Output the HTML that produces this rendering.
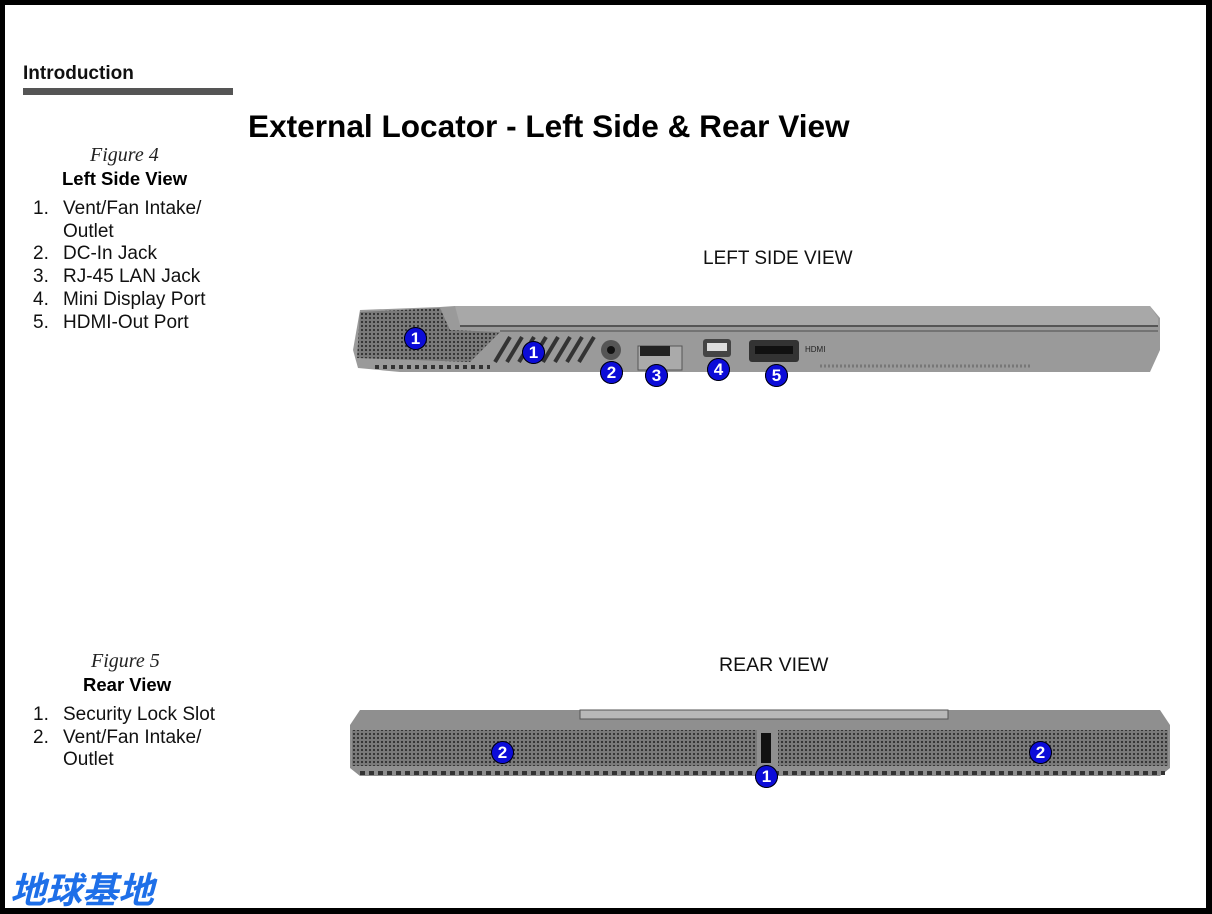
<!DOCTYPE html>
<html><head><meta charset="utf-8"><style>
html,body{margin:0;padding:0}
body{width:1212px;height:914px;position:relative;background:#000;overflow:hidden;font-family:"Liberation Sans",sans-serif}
#pg{position:absolute;left:5px;top:5px;width:1201px;height:903px;background:#fff}
.a{position:absolute;white-space:nowrap}
.b{position:absolute;width:23px;height:23px;border-radius:50%;background:#0c0cd8;color:#fff;font:bold 17px/23px "Liberation Sans",sans-serif;text-align:center;box-shadow:0 0 0 1px #000 inset}
.li{font-size:19px;color:#111}
.n{position:absolute;left:-30px}
</style></head><body><div id="pg"></div>
<div class="a" style="left:23px;top:63px;font-size:19px;font-weight:bold;color:#111">Introduction</div>
<div class="a" style="left:23px;top:88px;width:210px;height:7px;background:#555"></div>
<div class="a" style="left:248px;top:108px;font-size:31.6px;font-weight:bold;color:#000">External Locator - Left Side &amp; Rear View</div>
<div class="a" style="left:90px;top:144px;font:italic 20px 'Liberation Serif',serif;color:#222">Figure 4</div>
<div class="a" style="left:62px;top:168px;font-size:18.5px;font-weight:bold">Left Side View</div>
<div class="a li" style="left:63px;top:198px"><span class="n">1.</span>Vent/Fan Intake/</div>
<div class="a li" style="left:63px;top:221px">Outlet</div>
<div class="a li" style="left:63px;top:243px"><span class="n">2.</span>DC-In Jack</div>
<div class="a li" style="left:63px;top:266px"><span class="n">3.</span>RJ-45 LAN Jack</div>
<div class="a li" style="left:63px;top:289px"><span class="n">4.</span>Mini Display Port</div>
<div class="a li" style="left:63px;top:312px"><span class="n">5.</span>HDMI-Out Port</div>
<div class="a" style="left:91px;top:650px;font:italic 20px 'Liberation Serif',serif;color:#222">Figure 5</div>
<div class="a" style="left:83px;top:674px;font-size:18.5px;font-weight:bold">Rear View</div>
<div class="a li" style="left:63px;top:704px"><span class="n">1.</span>Security Lock Slot</div>
<div class="a li" style="left:63px;top:727px"><span class="n">2.</span>Vent/Fan Intake/</div>
<div class="a li" style="left:63px;top:749px">Outlet</div>
<div class="a" style="left:703px;top:248px;font-size:19px;color:#111">LEFT SIDE VIEW</div>
<div class="a" style="left:719px;top:654px;font-size:19.5px;color:#111">REAR VIEW</div>
<svg class="a" style="left:0;top:0" width="1212" height="914">
<defs><pattern id="m" width="4" height="4" patternUnits="userSpaceOnUse"><rect width="4" height="4" fill="#7a7a7a"/><circle cx="2" cy="2" r="1.1" fill="#2e2e2e"/></pattern></defs>
<path d="M455 306 L1150 306 L1160 318 L1160 350 L1150 372 L400 372 L358 368 L353 350 L360 310 L440 307 Z" fill="#9a9a9a"/>
<path d="M455 306 L1150 306 L1158 318 L1158 325 L460 325 Z" fill="#a8a8a8"/>
<line x1="460" y1="326" x2="1158" y2="326" stroke="#555" stroke-width="2"/>
<line x1="500" y1="331" x2="1158" y2="331" stroke="#666" stroke-width="1.5"/>
<path d="M360 312 L440 308 L450 330 L500 332 L470 362 L357 358 Z" fill="url(#m)"/>
<g stroke="#333" stroke-width="4">
<line x1="495" y1="362" x2="510" y2="337"/><line x1="507" y1="362" x2="522" y2="337"/><line x1="519" y1="362" x2="534" y2="337"/><line x1="531" y1="362" x2="546" y2="337"/><line x1="543" y1="362" x2="558" y2="337"/><line x1="555" y1="362" x2="570" y2="337"/><line x1="567" y1="362" x2="582" y2="337"/><line x1="579" y1="362" x2="594" y2="337"/></g>
<line x1="375" y1="367" x2="490" y2="367" stroke="#333" stroke-width="4" stroke-dasharray="4 4"/>
<line x1="820" y1="366" x2="1030" y2="366" stroke="#777" stroke-width="3" stroke-dasharray="2 2"/>
<circle cx="611" cy="350" r="10" fill="#555"/><circle cx="611" cy="350" r="4" fill="#111"/>
<rect x="638" y="346" width="44" height="24" fill="#aaa" stroke="#555"/><rect x="640" y="346" width="30" height="10" fill="#222"/>
<rect x="703" y="339" width="28" height="18" rx="3" fill="#444"/><rect x="707" y="343" width="20" height="8" fill="#ddd"/>
<rect x="749" y="340" width="50" height="22" rx="3" fill="#333"/><rect x="755" y="346" width="38" height="8" fill="#111"/>
<text x="805" y="352" font-size="8" font-family="Liberation Sans" fill="#222">HDMI</text>
<path d="M360 710 L1160 710 L1170 725 L1170 768 L1160 776 L360 776 L350 768 L350 725 Z" fill="#8f8f8f"/>
<rect x="580" y="710" width="368" height="9" fill="#b8b8b8" stroke="#555"/>
<rect x="352" y="730" width="405" height="36" fill="url(#m)"/>
<rect x="778" y="730" width="390" height="36" fill="url(#m)"/>
<rect x="761" y="733" width="10" height="30" fill="#111"/>
<line x1="360" y1="773" x2="1165" y2="773" stroke="#333" stroke-width="4" stroke-dasharray="5 4"/>
</svg>
<div class="b" style="left:404px;top:327px">1</div>
<div class="b" style="left:522px;top:341px">1</div>
<div class="b" style="left:600px;top:361px">2</div>
<div class="b" style="left:645px;top:364px">3</div>
<div class="b" style="left:707px;top:358px">4</div>
<div class="b" style="left:765px;top:364px">5</div>
<div class="b" style="left:491px;top:741px">2</div>
<div class="b" style="left:1029px;top:741px">2</div>
<div class="b" style="left:755px;top:765px">1</div>
<div class="a" style="left:10px;top:862px;font:italic bold 36px 'WenQuanYi Zen Hei','Noto Sans CJK SC',sans-serif;color:#1e6fe8">地球基地</div>
</body></html>
